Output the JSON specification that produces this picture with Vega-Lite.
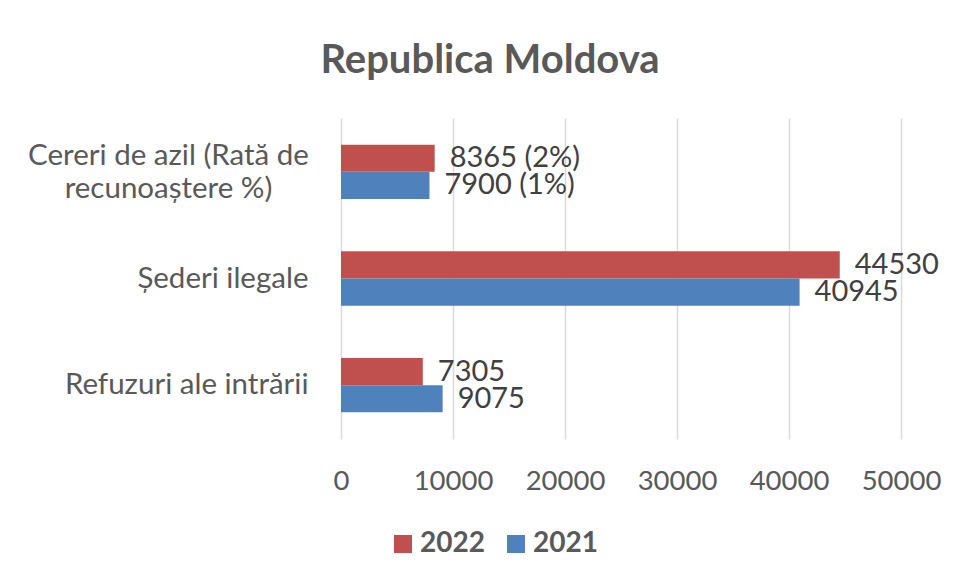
{
  "$schema": "https://vega.github.io/schema/vega-lite/v6.json",
  "width": 560,
  "height": 321,
  "autosize": {"type": "none"},
  "padding": {"left": 341, "top": 118, "right": 56, "bottom": 140},
  "background": "white",
  "config": {"view": {"stroke": null}, "font": "Lato"},
  "title": {
    "text": "Republica Moldova",
    "fontSize": 40,
    "fontWeight": "bold",
    "color": "#595959",
    "font": "Lato",
    "anchor": "middle",
    "baseline": "alphabetic",
    "dx": -131,
    "dy": 40,
    "offset": 45
  },
  "data": {
    "values": [
      {"category": "Cereri de azil (Rată de recunoaștere %)", "year": "2022", "value": 8365, "label": "8365 (2%)"},
      {"category": "Cereri de azil (Rată de recunoaștere %)", "year": "2021", "value": 7900, "label": "7900 (1%)"},
      {"category": "Șederi ilegale", "year": "2022", "value": 44530, "label": "44530"},
      {"category": "Șederi ilegale", "year": "2021", "value": 40945, "label": "40945"},
      {"category": "Refuzuri ale intrării", "year": "2022", "value": 7305, "label": "7305"},
      {"category": "Refuzuri ale intrării", "year": "2021", "value": 9075, "label": "9075"}
    ]
  },
  "encoding": {
    "y": {
      "field": "category",
      "type": "nominal",
      "sort": ["Cereri de azil (Rată de recunoaștere %)", "Șederi ilegale", "Refuzuri ale intrării"],
      "scale": {"paddingInner": 0.49, "paddingOuter": 0.25},
      "axis": {
        "title": null,
        "domain": false,
        "ticks": false,
        "labelFontSize": 29.5,
        "labelColor": "#595959",
        "labelLimit": 0,
        "labelLineHeight": 33,
        "labelExpr": "datum.value == 'Cereri de azil (Rată de recunoaștere %)' ? ['Cereri de azil (Rată de', 'recunoaștere %)'] : datum.label",
        "labelAlign": {"condition": {"test": "datum.value == 'Cereri de azil (Rată de recunoaștere %)'", "value": "center"}, "value": "right"},
        "labelPadding": {"condition": {"test": "datum.value == 'Cereri de azil (Rată de recunoaștere %)'", "value": 173}, "value": 33},
        "labelOffset": {"condition": {"test": "datum.value == 'Cereri de azil (Rată de recunoaștere %)'", "value": -16}, "value": 0}
      }
    },
    "yOffset": {"field": "year", "type": "nominal", "sort": ["2022", "2021"]},
    "x": {
      "field": "value",
      "type": "quantitative",
      "scale": {"domain": [0, 50000], "nice": false},
      "axis": {
        "title": null,
        "values": [0, 10000, 20000, 30000, 40000, 50000],
        "format": "d",
        "grid": true,
        "gridColor": "#D9D9D9",
        "gridWidth": 1.5,
        "domain": false,
        "ticks": false,
        "labelFontSize": 27.5,
        "labelColor": "#595959",
        "labelPadding": 28,
        "labelFlush": false,
        "labelOverlap": false
      }
    }
  },
  "layer": [
    {
      "mark": {"type": "bar"},
      "encoding": {
        "color": {
          "field": "year",
          "type": "nominal",
          "scale": {"domain": ["2022", "2021"], "range": ["#C0504D", "#4F81BD"]},
          "legend": {
            "orient": "none",
            "legendX": 48,
            "legendY": 412,
            "direction": "horizontal",
            "title": null,
            "symbolType": "square",
            "symbolSize": 324,
            "symbolStrokeWidth": 0,
            "labelFontSize": 28,
            "labelFontWeight": "bold",
            "labelColor": "#595959",
            "columnPadding": 17,
            "labelOffset": 3
          }
        }
      }
    },
    {
      "mark": {"type": "text", "align": "left", "baseline": "middle", "dx": 15, "fontSize": 29, "color": "#404040"},
      "encoding": {"text": {"field": "label"}}
    }
  ]
}
